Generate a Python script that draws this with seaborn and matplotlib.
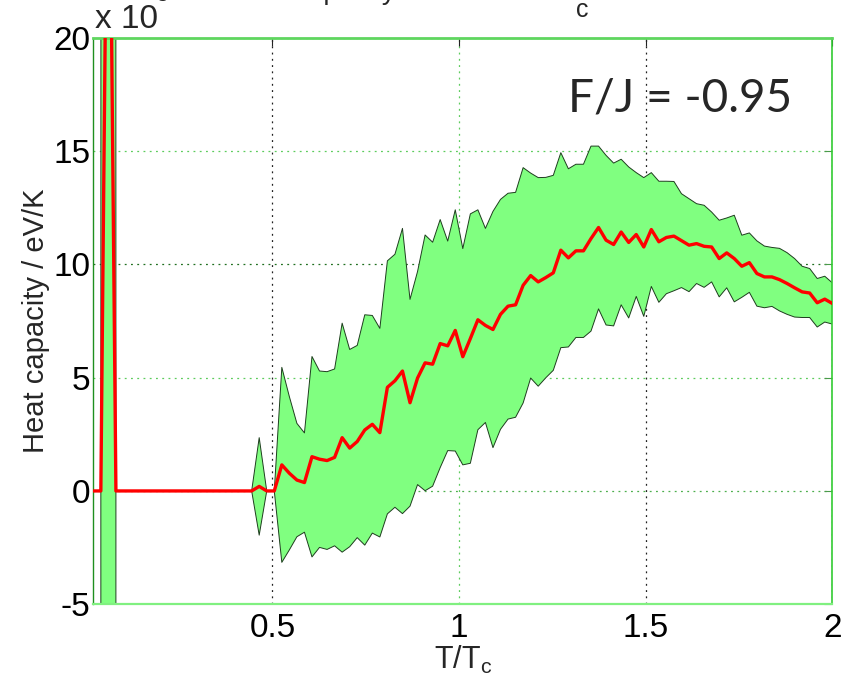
import numpy as np
import pandas as pd
import matplotlib
matplotlib.use("Agg")
import matplotlib.pyplot as plt
import seaborn as sns

# Reduced temperature grid T/Tc: 99 samples from 0.02 to 2.0
t_start, t_stop, n_temps = 0.02, 2.0, 99

# Mean heat capacity (x 1e-3 eV/K) at each temperature sample
heat_mean = [
    0.0, 0.0, 35.0, 0.0, 0.0, 0.0, 0.0, 0.0, 0.0, 0.0,          # 0.02 .. 0.20
    0.0, 0.0, 0.0, 0.0, 0.0, 0.0, 0.0, 0.0, 0.0, 0.0,           # 0.22 .. 0.40
    0.0, 0.0, 0.2, 0.0, 0.0,                                      # 0.42 .. 0.50
    1.15, 0.78, 0.48, 0.37, 1.51, 1.40, 1.34, 1.48, 2.35, 1.89,
    2.18, 2.69, 2.94, 2.57, 4.57, 4.86, 5.29, 3.89, 4.98, 5.65,
    5.59, 6.50, 6.40, 7.08, 5.92, 6.72, 7.55, 7.30, 7.12, 7.79,
    8.15, 8.21, 9.07, 9.50, 9.22, 9.41, 9.62, 10.62, 10.28, 10.59,
    10.59, 11.13, 11.62, 11.06, 10.87, 11.42, 10.96, 11.31, 10.76, 11.53,
    10.99, 11.18, 11.24, 11.04, 10.84, 10.91, 10.79, 10.76, 10.25, 10.50,
    10.25, 9.91, 10.07, 9.59, 9.44, 9.44, 9.32, 9.15, 8.96, 8.78,
    8.73, 8.30, 8.46, 8.27,
]

# Standard deviation of the heat capacity over the sampled runs
heat_std = [
    0.0, 0.0, 3000.0, 0.0, 0.0, 0.0, 0.0, 0.0, 0.0, 0.0,
    0.0, 0.0, 0.0, 0.0, 0.0, 0.0, 0.0, 0.0, 0.0, 0.0,
    0.0, 0.0, 2.15, 0.0, 0.0,
    4.30, 3.38, 2.50, 2.19, 4.42, 3.89, 3.92, 3.90, 5.05, 4.35,
    4.24, 5.08, 4.80, 4.60, 5.58, 5.58, 6.29, 4.56, 4.70, 5.64,
    5.38, 5.47, 4.62, 5.32, 4.77, 5.50, 4.85, 4.28, 5.21, 5.07,
    4.98, 4.96, 5.19, 4.52, 4.60, 4.42, 4.30, 4.30, 3.93, 3.82,
    3.82, 4.08, 3.59, 3.74, 3.59, 3.21, 3.33, 2.73, 3.06, 2.51,
    2.67, 2.48, 2.41, 2.07, 2.05, 1.76, 1.81, 1.54, 1.69, 1.54,
    1.91, 1.37, 1.31, 1.44, 1.36, 1.30, 1.38, 1.36, 1.29, 1.13,
    1.08, 1.07, 1.01, 0.91,
]

x_ticks = [0.5, 1.0, 1.5, 2.0]
x_tick_labels = ["0.5", "1", "1.5", "2"]
y_ticks = [-5, 0, 5, 10, 15, 20]
y_tick_labels = ["-5", "0", "5", "10", "15", "20"]

temps = np.linspace(t_start, t_stop, n_temps)
df = pd.DataFrame({"T": temps, "C": heat_mean, "s": heat_std})
df["upper"] = df["C"] + df["s"]
df["lower"] = df["C"] - df["s"]

sns.set_style("white")
plt.rcParams["font.family"] = ["Liberation Sans", "DejaVu Sans"]
plt.rcParams["mathtext.fontset"] = "custom"
plt.rcParams["mathtext.rm"] = "Liberation Sans"

fig = plt.figure(figsize=(8.44, 6.84), dpi=100)
ax = fig.add_axes([93.3 / 844, 1 - 604.3 / 684, (832.3 - 93.3) / 844, (604.3 - 37.5) / 684])

# spread band
ax.fill_between(df["T"], df["lower"], df["upper"], color="#80ff80", lw=0, zorder=1)
sns.lineplot(data=df, x="T", y="upper", color="#1e3d1e", lw=0.7, ax=ax, errorbar=None, zorder=2)
sns.lineplot(data=df, x="T", y="lower", color="#1e3d1e", lw=0.7, ax=ax, errorbar=None, zorder=2)
# mean curve
sns.lineplot(data=df, x="T", y="C", color="#ff0000", lw=2.4, ax=ax, errorbar=None, zorder=3)

ax.set_xlim(t_start, t_stop)
ax.set_ylim(-5, 20)
ax.set_xticks(x_ticks)
ax.set_xticklabels(x_tick_labels)
ax.set_yticks(y_ticks)
ax.set_yticklabels(y_tick_labels)

ax.tick_params(axis="both", direction="in", length=6, width=0.8, top=True, right=True,
               labelsize=24, labelcolor="black")
ax.tick_params(axis="x", pad=6, color="#222222")
ax.tick_params(axis="y", pad=2, color="#4a9a4a")

ax.grid(True, linestyle=(0, (1.5, 3.5)), linewidth=0.9)
for gl, col in zip(ax.get_xgridlines(), ["#202020", "#5ccc5c", "#202020", "#202020"]):
    gl.set_color(col)
for gl, col in zip(ax.get_ygridlines(),
                   ["#5ccc5c", "#4caf4c", "#5ccc5c", "#1f6f1f", "#5ccc5c", "#5ccc5c"]):
    gl.set_color(col)

ax.spines["top"].set_color("#5fd65f")
ax.spines["top"].set_linewidth(2.0)
ax.spines["bottom"].set_color("#80f080")
ax.spines["bottom"].set_linewidth(1.6)
ax.spines["left"].set_color("#1f8f1f")
ax.spines["left"].set_linewidth(1.0)
ax.spines["right"].set_color("#33cc33")
ax.spines["right"].set_linewidth(1.2)

ax.set_ylabel("Heat capacity / eV/K", fontsize=21)
ax.yaxis.set_label_coords(-0.058, 0.5)
ax.set_xlabel(r"T/T$_{\mathregular{c}}$", fontsize=22)
ax.xaxis.set_label_coords(0.5, -0.07)

# exponent label and figure title along the top edge
fig.text(95 / 844, 1 - 28 / 684, "x 10", fontsize=24, ha="left", va="baseline")
fig.text(150 / 844, 1 - 1 / 684, "-3", fontsize=15, ha="left", va="baseline")
fig.text(228 / 844, 1 + 1 / 684, "Heat capacity versus T / T", fontsize=20, ha="left", va="baseline")
fig.text(576 / 844, 1 - 17 / 684, "c", fontsize=18, ha="left", va="baseline")

fig.text(568 / 844, 1 - 111 / 684, "F/J = -0.95", fontsize=33, family=["Lato", "DejaVu Sans"],
         ha="left", va="baseline")

fig.savefig("out.png", dpi=100)
